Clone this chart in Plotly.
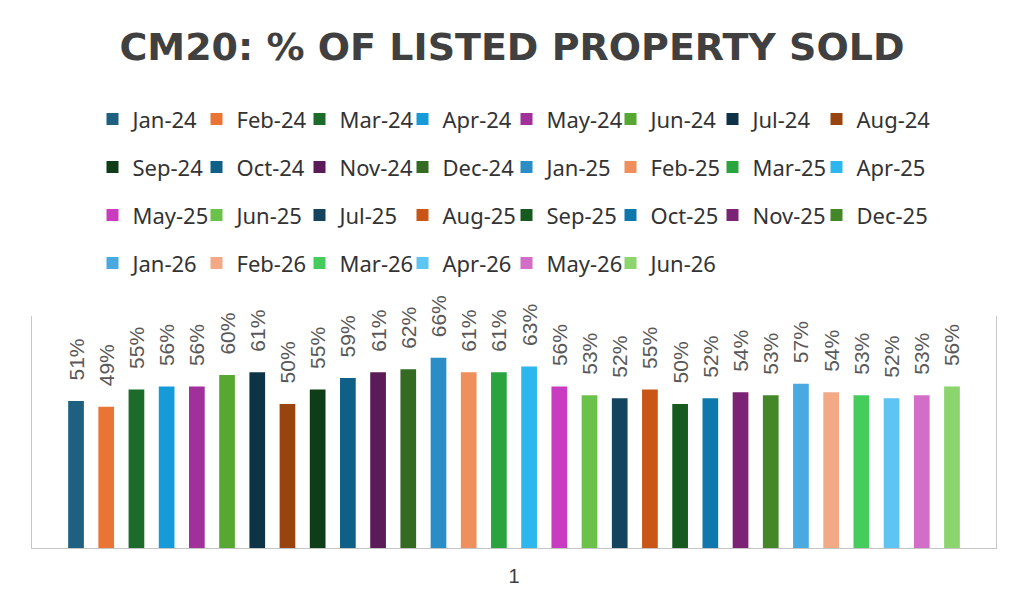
import plotly.graph_objects as go

# months and share of listed property sold (%)
months = ["Jan-24", "Feb-24", "Mar-24", "Apr-24", "May-24", "Jun-24", "Jul-24", "Aug-24",
          "Sep-24", "Oct-24", "Nov-24", "Dec-24", "Jan-25", "Feb-25", "Mar-25", "Apr-25",
          "May-25", "Jun-25", "Jul-25", "Aug-25", "Sep-25", "Oct-25", "Nov-25", "Dec-25",
          "Jan-26", "Feb-26", "Mar-26", "Apr-26", "May-26", "Jun-26"]
pct_sold = [51, 49, 55, 56, 56, 60, 61, 50,
            55, 59, 61, 62, 66, 61, 61, 63,
            56, 53, 52, 55, 50, 52, 54, 53,
            57, 54, 53, 52, 53, 56]
category = "1"

colors = ["#1f5f80", "#ea7434", "#1c6b2a", "#169bd8", "#a0319b", "#56a833", "#0f3346", "#97440f",
          "#0f3d18", "#0f5f87", "#5b1b58", "#356a22", "#2a8dc6", "#ee8f5c", "#2aa43e", "#2eb6ee",
          "#c93cbf", "#6bc24a", "#13435f", "#c95616", "#165a20", "#0e78ac", "#7b2476", "#438729",
          "#4aaadf", "#f3a986", "#46cb5d", "#5ec5f2", "#d26dc8", "#8cd46d"]

# page has an 8px body margin, so the figure is a bit smaller than the window
W, H, OFF = 1008, 589, 8
ML, MR, MT, MB = 32 - OFF, W + OFF - 996, 316 - OFF, H + OFF - 548
plot_w = W - ML - MR

# legend is laid out as 8 columns (one plotly legend per column)
col_x = [115.5, 219.5, 322.5, 425.5, 529.5, 633.5, 735.5, 839.5]  # square centres, px
first_row_y = 114
row_step = 48

legend_names = ["legend"] + [f"legend{k}" for k in range(2, 9)]

fig = go.Figure()
for i, (m, v) in enumerate(zip(months, pct_sold)):
    fig.add_trace(go.Bar(
        x=[category], y=[v], name=m, legendgroup=m,
        marker=dict(color=colors[i], line=dict(width=0)),
        text=["\u00a0\u00a0\u00a0" + f"{v}%"],
        textposition="outside", textangle=-90,
        textfont=dict(family="Liberation Sans", size=21, color="#595959"),
        constraintext="none", cliponaxis=False,
        legend=legend_names[i % 8],
    ))

item_h = 22 * 1.3 + 3
legend_style = dict(
    orientation="v", xref="paper", yref="container",
    xanchor="left", yanchor="top",
    y=1 - (first_row_y - item_h / 2 - OFF) / H,
    font=dict(family="Noto Sans", size=22, color="#333333"),
    bgcolor="rgba(0,0,0,0)", borderwidth=0,
    traceorder="grouped", tracegroupgap=row_step - item_h,
)

layout_legends = {}
for name, cx in zip(legend_names, col_x):
    layout_legends[name] = dict(legend_style, x=(cx - 3 - 20 - OFF - ML) / plot_w)

fig.update_layout(
    width=W, height=H,
    title=dict(text="CM20: % OF LISTED PROPERTY SOLD", x=0.5, xanchor="center",
               y=1 - (47 - OFF) / H, yanchor="middle",
               font=dict(family="DejaVu Sans", size=38, color="#404040", weight="bold")),
    barmode="group", bargap=0.06, bargroupgap=0.48,
    margin=dict(l=ML, r=MR, t=MT, b=MB),
    plot_bgcolor="white", paper_bgcolor="white",
    showlegend=True,
    **layout_legends,
)
fig.update_xaxes(showline=True, linecolor="#c6c6c6", linewidth=1, automargin=False,
                 tickfont=dict(family="Liberation Sans", size=20, color="#404040"),
                 ticks="", ticklabelstandoff=10, showgrid=False)
fig.update_yaxes(range=[0, 80.5], showline=True, mirror=True, linecolor="#c6c6c6",
                 linewidth=1, automargin=False, showticklabels=False, showgrid=False,
                 zeroline=False, ticks="")

fig.write_html("out.html")
